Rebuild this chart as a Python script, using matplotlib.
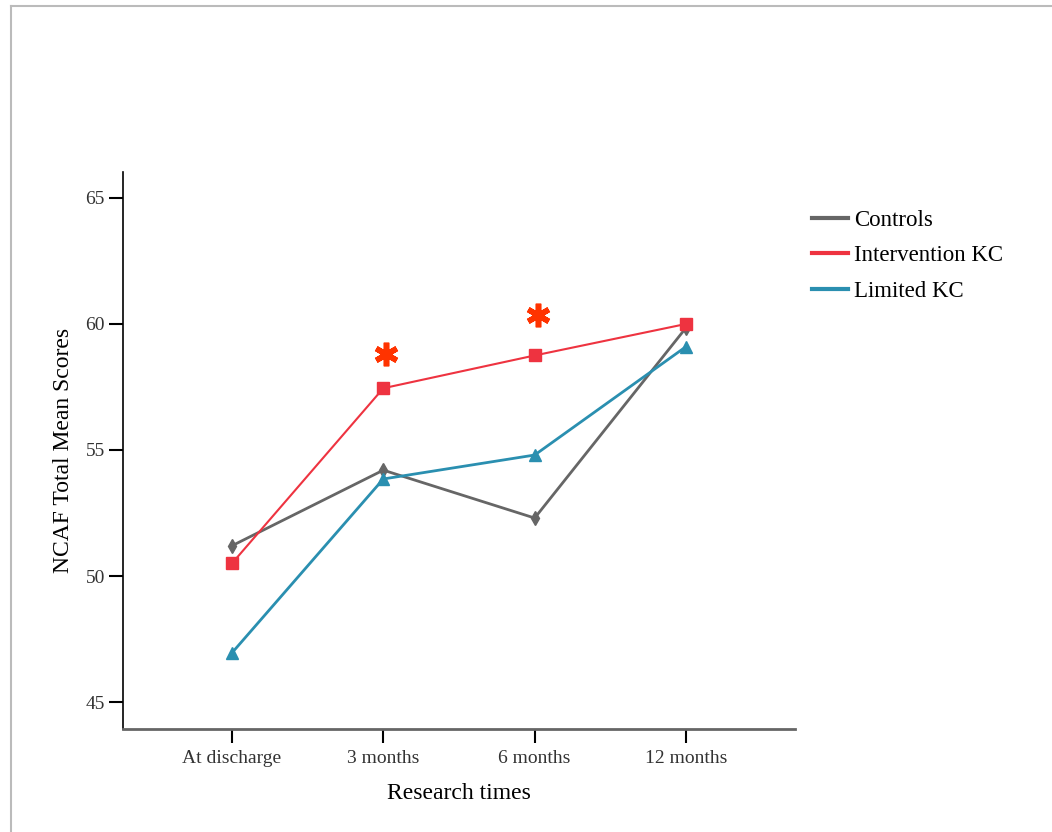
import matplotlib
matplotlib.use("Agg")
import matplotlib.pyplot as plt
from matplotlib.lines import Line2D

# dados
tempos = ["At discharge", "3 months", "6 months", "12 months"]
controls = [51.2, 54.2, 52.3, 59.85]
intervention = [50.5, 57.45, 58.75, 60.0]
limited = [46.95, 53.85, 54.8, 59.1]

# asteriscos de significancia
sig_x = [1.02, 2.02]
sig_y = [58.8, 60.35]

cinza = "#666666"
vermelho = "#EE3340"
azul = "#2A8FB0"

plt.rcParams["font.family"] = ["Liberation Serif", "DejaVu Serif"]

fig = plt.figure(figsize=(10.52, 8.32), dpi=100)
ax = fig.add_axes([0.1169, 0.1238, 0.6388, 0.6695])

x = list(range(len(tempos)))
ax.plot(x, controls, color=cinza, lw=2, marker="d", ms=7, label="Controls")
ax.plot(x, intervention, color=vermelho, lw=1.5, marker="s", ms=8, label="Intervention KC")
ax.plot(x, limited, color=azul, lw=2, marker="^", ms=9, label="Limited KC")
ax.plot(sig_x, sig_y, ls="none", marker=(6, 2, 0), ms=17, mew=4, color="#FF3300")

ax.set_xlim(-0.72, 3.72)
ax.set_ylim(43.93, 66.03)
ax.set_xticks(x)
ax.set_xticklabels(tempos)
ax.set_yticks([45, 50, 55, 60, 65])

for s in ["top", "right"]:
    ax.spines[s].set_visible(False)
ax.spines["left"].set_color("black")
ax.spines["left"].set_linewidth(1.2)
ax.spines["bottom"].set_color(cinza)
ax.spines["bottom"].set_linewidth(2)

ax.tick_params(axis="both", direction="out", length=10, width=1.5, color="black",
               labelsize=14, labelcolor="#333333", pad=3)
ax.tick_params(axis="x", pad=5)
ax.set_xlabel("Research times", fontsize=17, labelpad=12)
ax.set_ylabel("NCAF Total Mean Scores", fontsize=17, labelpad=8)

fig.legend(loc="upper left", bbox_to_anchor=(812 / 1052, 1 - 210 / 832), frameon=False,
           fontsize=16.5, handlelength=1.55, handletextpad=0.3, labelspacing=0.62,
           borderpad=0, borderaxespad=0,
           handles=[Line2D([], [], color=cinza, lw=3),
                    Line2D([], [], color=vermelho, lw=3),
                    Line2D([], [], color=azul, lw=3)],
           labels=["Controls", "Intervention KC", "Limited KC"])

# moldura cinza da imagem original
fig.add_artist(Line2D([11 / 1052, 11 / 1052], [0, 1 - 6 / 832], color="#BBBBBB", lw=1.5,
                      transform=fig.transFigure))
fig.add_artist(Line2D([11 / 1052, 1], [1 - 6 / 832, 1 - 6 / 832], color="#BBBBBB", lw=1.5,
                      transform=fig.transFigure))

fig.savefig("out.png", dpi=100)
